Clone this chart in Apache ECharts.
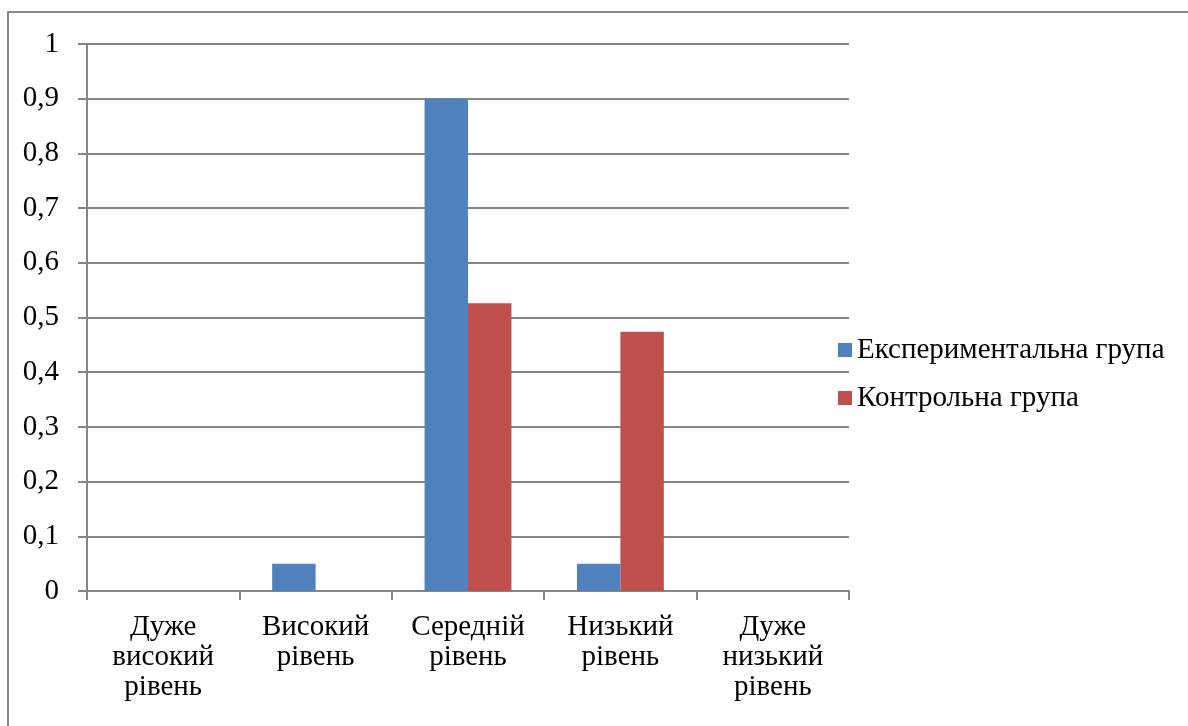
<!DOCTYPE html>
<html>
<head>
<meta charset="utf-8">
<script src="https://cdn.jsdelivr.net/npm/echarts@6/dist/echarts.min.js"></script>
<style>
html,body{margin:0;padding:0;background:#fff;}
#chart{width:1188px;height:726px;}
</style>
</head>
<body>
<div id="chart"></div>
<script>
const categories = ['Дуже\nвисокий\nрівень', 'Високий\nрівень', 'Середній\nрівень', 'Низький\nрівень', 'Дуже\nнизький\nрівень'];
const seriesNames = ['Експериментальна група', 'Контрольна група'];
const experimental = [0, 0.05, 0.9, 0.05, 0];
const control = [0, 0, 0.526, 0.474, 0];
const colors = ['#4F81BD', '#C0504D'];

const chart = echarts.init(document.getElementById('chart'));
const font = "'Times New Roman', 'Liberation Serif', 'DejaVu Serif', serif";
chart.setOption({
  animation: false,
  textStyle: { fontFamily: font },
  graphic: [{
    type: 'rect',
    shape: { x: 8, y: 12, width: 1300, height: 900 },
    style: { fill: 'none', stroke: '#878787', lineWidth: 2 }
  }],
  grid: { left: 87, right: 339, top: 44, bottom: 135 },
  legend: {
    orient: 'vertical',
    left: 833,
    top: 330,
    itemWidth: 14,
    itemHeight: 14,
    itemGap: 18,
    icon: 'rect',
    textStyle: { fontFamily: font, fontSize: 29, color: '#000', lineHeight: 30, padding: [0, 0, 0, 0] },
    data: seriesNames
  },
  xAxis: {
    type: 'category',
    data: categories,
    axisLine: { lineStyle: { color: '#868686', width: 2 } },
    axisTick: { show: true, alignWithLabel: false, length: 9, lineStyle: { color: '#868686', width: 2 } },
    axisLabel: { fontFamily: font, fontSize: 29, color: '#000', lineHeight: 30, margin: 21, interval: 0 }
  },
  yAxis: {
    type: 'value',
    min: 0, max: 1, interval: 0.1,
    axisLine: { show: true, lineStyle: { color: '#868686', width: 2 } },
    axisTick: { show: true, length: 9, lineStyle: { color: '#868686', width: 2 } },
    splitLine: { lineStyle: { color: '#868686', width: 2 } },
    axisLabel: {
      fontFamily: font, fontSize: 29, color: '#000', margin: 28,
      formatter: v => String(Math.round(v * 10) / 10).replace('.', ',')
    }
  },
  series: [
    { name: seriesNames[0], type: 'bar', data: experimental, itemStyle: { color: colors[0] }, barGap: '0%', barCategoryGap: '43%' },
    { name: seriesNames[1], type: 'bar', data: control, itemStyle: { color: colors[1] }, barGap: '0%', barCategoryGap: '43%' }
  ]
});
</script>
</body>
</html>
